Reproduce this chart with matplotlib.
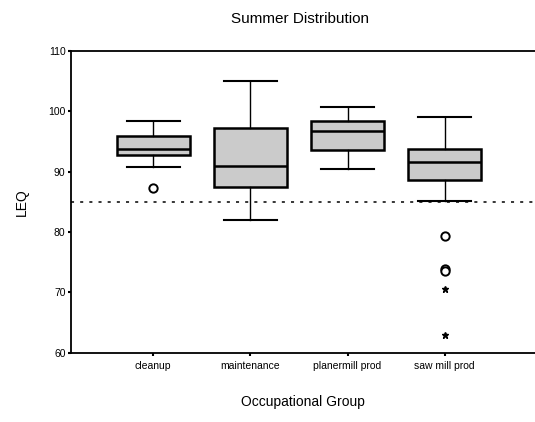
import numpy as np
import matplotlib.pyplot as plt

plt.rcParams['font.family'] = ['Liberation Sans', 'DejaVu Sans']

groups = ['cleanup', 'maintenance', 'planermill prod', 'saw mill prod']
q1 = [92.8, 87.5, 93.5, 88.6]
med = [93.8, 90.9, 96.7, 91.6]
q3 = [95.8, 97.2, 98.4, 93.7]
whislo = [90.7, 82.0, 90.4, 85.1]
whishi = [98.4, 105.0, 100.6, 99.1]

# outliers (circles) and extremes (stars)
circ_x = [1, 4, 4, 4]
circ_y = [87.2, 79.3, 73.9, 73.6]
star_x = [4, 4]
star_y = [70.6, 63.0]

limit = 85
yticks = [60, 70, 80, 90, 100, 110]

fig = plt.figure(figsize=(5.35, 4.22), dpi=100)
ax = fig.add_axes([0.133, 0.164, 0.867, 0.716])

stats = []
for i in range(len(groups)):
    stats.append(dict(label=groups[i], q1=q1[i], med=med[i], q3=q3[i],
                      whislo=whislo[i], whishi=whishi[i], fliers=[]))

ax.bxp(stats, positions=[1, 2, 3, 4], widths=0.75, capwidths=0.55,
       showfliers=False, patch_artist=True,
       boxprops=dict(facecolor='#cbcbcb', edgecolor='black', linewidth=1.8),
       medianprops=dict(color='black', linewidth=1.8),
       whiskerprops=dict(color='black', linewidth=1.0),
       capprops=dict(color='black', linewidth=1.5))

ax.plot(circ_x, circ_y, 'o', ms=6, mfc='white', mec='black', mew=1.4)
ax.plot(star_x, star_y, '*', ms=5, color='black')

ax.axhline(limit, color='black', lw=1.1, ls=(0, (2, 4)), zorder=0)

ax.set_xlim(0.155, 4.93)
ax.set_ylim(60, 110)
ax.set_yticks(yticks)
ax.set_xticks([1, 2, 3, 4])
ax.set_xticklabels(groups, fontsize=7.5)
ax.tick_params(axis='y', labelsize=7.5, length=2, width=1.5, pad=2)
ax.tick_params(axis='x', length=2, width=1.5, pad=4)

ax.spines['right'].set_visible(False)
for s in ['left', 'bottom', 'top']:
    ax.spines[s].set_linewidth(1.3)

ax.set_ylabel('LEQ', fontsize=10, labelpad=14)
ax.set_xlabel('Occupational Group', fontsize=10, labelpad=17)
fig.text(0.56, 0.955, 'Summer Distribution', fontsize=11, ha='center', va='center')

fig.savefig('out.png', dpi=100)
